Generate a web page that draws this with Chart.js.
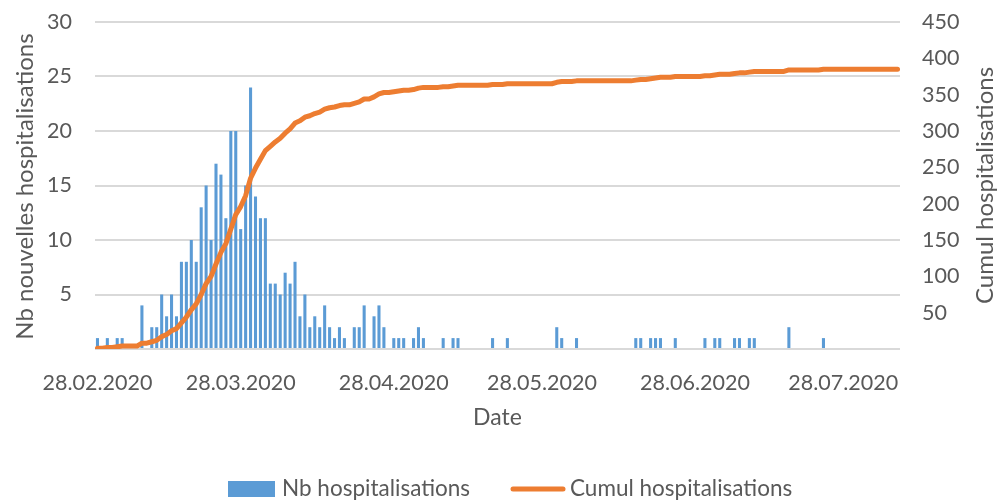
<!DOCTYPE html>
<html><head><meta charset="utf-8">
<script src="https://cdn.jsdelivr.net/npm/chart.js@4.4.1/dist/chart.umd.min.js"></script>
<style>html,body{margin:0;padding:0;background:#fff;overflow:hidden}#wrap{width:1000px;height:501px;position:relative}</style>
</head><body><div id="wrap"><canvas id="c" width="1000" height="501"></canvas></div>
<script>
// ---- Data ----
const startYear = 2020, startMonth = 2, startDay = 28; // first category: 28.02.2020
const tickLabels = ['28.02.2020', '28.03.2020', '28.04.2020', '28.05.2020', '28.06.2020', '28.07.2020'];
const dailyHosp = [
  1,0,1,0,1,1,0,0,0,4,
  0,2,2,5,3,5,3,8,8,10,
  8,13,15,10,17,16,12,20,20,11,
  15,24,14,12,12,6,6,5,7,6,
  8,3,5,2,3,2,4,2,1,2,
  1,0,2,2,4,0,3,4,2,0,
  1,1,1,0,1,2,1,0,0,0,
  1,0,1,1,0,0,0,0,0,0,
  1,0,0,1,0,0,0,0,0,0,
  0,0,0,2,1,0,0,1,0,0,
  0,0,0,0,0,0,0,0,0,1,
  1,0,1,1,1,0,0,1,0,0,
  0,0,0,1,0,1,1,0,0,1,
  1,0,1,1,0,0,0,0,0,0,
  2,0,0,0,0,0,0,1,0,0,
  0,0,0,0,0,0,0,0,0,0,
  0,0,0
];
const cumulHosp = [
  1,1,2,2,3,4,4,4,4,8,
  8,10,12,17,20,25,28,36,44,54,
  62,75,90,100,117,133,145,165,185,196,
  211,235,249,261,273,279,285,290,297,303,
  311,314,319,321,324,326,330,332,333,335,
  336,336,338,340,344,344,347,351,353,353,
  354,355,356,356,357,359,360,360,360,360,
  361,361,362,363,363,363,363,363,363,363,
  364,364,364,365,365,365,365,365,365,365,
  365,365,365,367,368,368,368,369,369,369,
  369,369,369,369,369,369,369,369,369,370,
  371,371,372,373,374,374,374,375,375,375,
  375,375,375,376,376,377,378,378,378,379,
  380,380,381,382,382,382,382,382,382,382,
  384,384,384,384,384,384,384,385,385,385,
  385,385,385,385,385,385,385,385,385,385,
  385,385,385
];
const seriesNames = ['Nb hospitalisations', 'Cumul hospitalisations'];
const xTitle = 'Date';
const leftTitle = 'Nb nouvelles hospitalisations';
const rightTitle = 'Cumul hospitalisations';

// categories: one per day
const pad2 = n => (n < 10 ? '0' : '') + n;
const categories = dailyHosp.map((_, i) => {
  const d = new Date(Date.UTC(startYear, startMonth - 1, startDay + i));
  return pad2(d.getUTCDate()) + '.' + pad2(d.getUTCMonth() + 1) + '.' + d.getUTCFullYear();
});

const FONT = 'Lato';
const TXT = '#595959';
const BLUE = '#5B9BD5';
const ORANGE = '#ED7D31';

const overlay = {
  id: 'overlay',
  afterDraw(chart) {
    const ctx = chart.ctx, a = chart.chartArea;
    ctx.save();
    ctx.fillStyle = TXT;
    ctx.textAlign = 'center';
    ctx.textBaseline = 'middle';
    ctx.font = '23px ' + FONT;
    ctx.fillText(xTitle, (a.left + a.right) / 2, 418);
    const cy = (a.top + a.bottom) / 2;
    ctx.font = '24px ' + FONT;
    ctx.save(); ctx.translate(25, cy + 1); ctx.rotate(-Math.PI / 2); ctx.fillText(leftTitle, 0, 0); ctx.restore();
    ctx.save(); ctx.translate(985, cy); ctx.rotate(-Math.PI / 2); ctx.fillText(rightTitle, 0, 0); ctx.restore();
    // legend
    const ly = 489;
    ctx.font = '22.5px ' + FONT;
    ctx.textAlign = 'left';
    ctx.fillStyle = BLUE;
    ctx.fillRect(228, ly - 8, 47, 16);
    ctx.fillStyle = TXT;
    ctx.fillText(seriesNames[0], 282, ly);
    ctx.strokeStyle = ORANGE; ctx.lineWidth = 5; ctx.lineCap = 'round';
    ctx.beginPath(); ctx.moveTo(513, ly); ctx.lineTo(563, ly); ctx.stroke();
    ctx.fillText(seriesNames[1], 570, ly);
    ctx.restore();
  }
};

new Chart(document.getElementById('c'), {
  data: {
    labels: categories,
    datasets: [
      { type: 'line', label: seriesNames[1], data: cumulHosp, yAxisID: 'y1', borderColor: ORANGE, backgroundColor: ORANGE,
        borderWidth: 5, pointRadius: 0, tension: 0, borderCapStyle: 'round', borderJoinStyle: 'round', order: 0 },
      { type: 'bar', label: seriesNames[0], data: dailyHosp, yAxisID: 'y', backgroundColor: BLUE,
        categoryPercentage: 1, barPercentage: 0.62, order: 1 }
    ]
  },
  options: {
    responsive: false, animation: false, devicePixelRatio: 1,
    layout: { padding: { top: 22, left: 0, right: 0, bottom: 0 } },
    plugins: { legend: { display: false }, tooltip: { enabled: false } },
    scales: {
      x: {
        type: 'category', offset: true,
        grid: { display: false }, border: { display: false },
        ticks: { autoSkip: false, maxRotation: 0, minRotation: 0, padding: 13, color: TXT, font: { family: FONT, size: 21.5 },
          callback: function (v) { const l = this.getLabelForValue(v); return tickLabels.includes(l) ? l : ''; } },
        afterFit: s => { s.height = 152; }
      },
      y: {
        position: 'left', min: 0, max: 30,
        grid: { color: '#d9d9d9', lineWidth: 2, drawTicks: false }, border: { display: false },
        ticks: { stepSize: 5, padding: 23, color: TXT, font: { family: FONT, size: 21.5 }, callback: v => (v === 0 ? '' : v) },
        afterFit: s => { s.width = 95; s.paddingTop = 0; s.paddingBottom = 0; }
      },
      y1: {
        position: 'right', min: 0, max: 450,
        grid: { display: false, drawTicks: false }, border: { display: false },
        ticks: { stepSize: 50, padding: 22, color: TXT, font: { family: FONT, size: 21.5 }, callback: v => (v === 0 ? '' : v) },
        afterFit: s => { s.width = 100; s.paddingTop = 0; s.paddingBottom = 0; }
      }
    }
  },
  plugins: [overlay]
});
</script></body></html>
